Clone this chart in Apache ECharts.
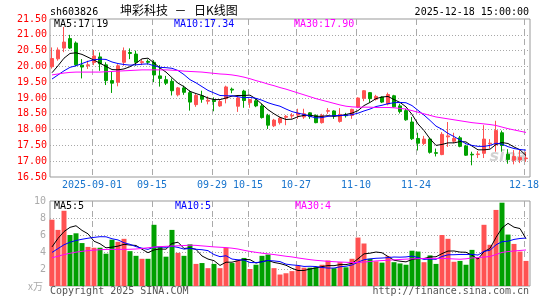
<!DOCTYPE html>
<html><head><meta charset="utf-8">
<script src="https://cdn.jsdelivr.net/npm/echarts@6/dist/echarts.min.js"></script>
<style>html,body{margin:0;padding:0;background:#fff}#c{width:545px;height:300px}</style>
</head><body><div id="c"></div>
<script>
const dates = [
'2025-08-21','2025-08-22','2025-08-25','2025-08-26','2025-08-27','2025-08-28','2025-08-29',
'2025-09-01','2025-09-02','2025-09-03','2025-09-04','2025-09-05','2025-09-08','2025-09-09','2025-09-10','2025-09-11','2025-09-12',
'2025-09-15','2025-09-16','2025-09-17','2025-09-18','2025-09-19','2025-09-22','2025-09-23','2025-09-24','2025-09-25','2025-09-26',
'2025-09-29','2025-09-30','2025-10-09','2025-10-10','2025-10-13','2025-10-14','2025-10-15','2025-10-16','2025-10-17','2025-10-20',
'2025-10-21','2025-10-22','2025-10-23','2025-10-24','2025-10-27','2025-10-28','2025-10-29','2025-10-30','2025-10-31',
'2025-11-03','2025-11-04','2025-11-05','2025-11-06','2025-11-07','2025-11-10','2025-11-11','2025-11-12','2025-11-13','2025-11-14',
'2025-11-17','2025-11-18','2025-11-19','2025-11-20','2025-11-21','2025-11-24','2025-11-25','2025-11-26','2025-11-27','2025-11-28',
'2025-12-01','2025-12-02','2025-12-03','2025-12-04','2025-12-05','2025-12-08','2025-12-09','2025-12-10','2025-12-11','2025-12-12',
'2025-12-15','2025-12-16','2025-12-17','2025-12-18'];

const opens = [
19.99,20.24,20.58,20.88,20.74,20.04,20.02,20.12,20.30,20.05,
19.55,19.50,20.13,20.44,20.39,20.12,20.16,20.13,19.70,19.58,
19.53,19.10,19.32,19.17,18.79,19.07,18.90,18.93,18.75,18.98,
19.28,18.74,19.22,18.85,18.91,18.75,18.45,18.12,18.22,18.39,
18.43,18.46,18.40,18.53,18.45,18.22,18.58,18.59,18.26,18.46,
18.45,18.71,18.99,19.17,18.96,19.03,18.81,19.07,18.75,18.60,
18.24,17.72,17.56,17.70,17.27,17.21,17.77,17.63,17.74,17.48,
17.22,17.21,17.25,17.55,17.52,17.90,17.22,17.03,17.04,17.08];
const closes = [
20.25,20.52,20.77,20.58,20.05,19.98,20.05,20.33,20.08,19.55,
19.47,20.02,20.49,20.41,20.13,20.15,20.13,19.73,19.62,19.47,
19.23,19.32,19.18,18.87,19.08,18.96,18.93,18.89,18.89,19.35,
19.25,19.00,18.92,18.95,18.75,18.38,18.14,18.30,18.36,18.42,
18.45,18.52,18.50,18.41,18.22,18.45,18.60,18.43,18.48,18.44,
18.64,19.00,19.23,18.98,19.05,18.87,19.11,18.72,18.57,18.31,
17.71,17.57,17.70,17.28,17.25,17.85,17.80,17.72,17.47,17.19,
17.20,17.23,17.70,17.57,17.97,17.50,17.05,17.15,17.12,17.10];
const lows = [
19.93,20.18,20.45,20.55,20.00,19.62,19.92,20.04,19.86,19.41,
19.16,19.37,20.02,20.23,20.02,20.04,20.06,19.50,19.36,19.41,
19.08,19.05,19.10,18.60,18.72,18.85,18.80,18.58,18.72,18.83,
19.15,18.56,18.69,18.69,18.71,18.35,18.02,18.08,18.16,18.14,
18.35,18.34,18.34,18.34,18.20,18.19,18.50,18.34,18.22,18.38,
18.34,18.68,18.90,18.86,18.92,18.84,18.77,18.70,18.51,18.28,
17.67,17.34,17.51,17.24,17.15,17.19,17.45,17.57,17.44,17.17,
16.87,17.10,17.10,17.40,17.30,17.30,16.92,16.90,16.94,16.98];
const highs = [
20.60,20.60,21.25,21.00,20.79,20.23,20.18,20.52,20.44,20.13,
19.83,20.07,20.60,20.57,20.50,20.23,20.22,20.20,20.04,19.70,
19.62,19.35,19.39,19.24,19.13,19.23,19.05,19.02,18.95,19.39,
19.33,19.07,19.26,18.97,18.97,18.82,18.50,18.34,18.40,18.46,
18.52,18.66,18.66,18.55,18.48,18.50,18.68,18.61,18.68,18.53,
18.66,19.02,19.25,19.19,19.10,19.05,19.17,19.10,18.82,18.66,
18.40,17.90,17.80,17.74,17.40,17.92,18.24,17.90,17.80,17.52,
17.30,17.32,18.14,17.70,18.28,17.97,17.38,17.35,17.38,17.30];

const ma5 = [
19.80,20.02,20.26,20.41,20.43,20.38,20.29,20.20,20.10,20.00,
19.90,19.89,19.92,19.99,20.10,20.24,20.26,20.11,19.95,19.82,
19.64,19.47,19.36,19.21,19.14,19.08,19.00,18.95,18.95,19.00,
19.06,19.08,19.08,19.09,18.97,18.80,18.63,18.50,18.39,18.32,
18.33,18.41,18.45,18.46,18.42,18.42,18.44,18.42,18.44,18.48,
18.52,18.60,18.76,18.86,18.98,19.03,19.05,18.95,18.86,18.72,
18.48,18.18,17.97,17.71,17.50,17.53,17.58,17.58,17.62,17.61,
17.48,17.36,17.36,17.38,17.53,17.59,17.56,17.45,17.36,17.18];
const ma10 = [
19.60,19.73,19.86,19.97,20.02,20.09,20.16,20.21,20.23,20.22,
20.14,20.09,20.06,20.04,20.05,20.07,20.08,20.02,19.97,19.96,
19.94,19.87,19.74,19.58,19.48,19.36,19.24,19.16,19.08,19.07,
19.07,19.04,19.01,19.02,18.99,18.93,18.85,18.79,18.74,18.65,
18.57,18.52,18.48,18.42,18.37,18.38,18.42,18.44,18.45,18.45,
18.47,18.52,18.59,18.65,18.73,18.77,18.82,18.85,18.86,18.85,
18.76,18.61,18.46,18.29,18.11,18.01,17.88,17.78,17.67,17.55,
17.50,17.47,17.47,17.50,17.57,17.54,17.46,17.40,17.37,17.35];
const ma30 = [
19.73,19.76,19.79,19.81,19.82,19.82,19.82,19.82,19.82,19.83,
19.84,19.85,19.86,19.87,19.88,19.89,19.89,19.89,19.89,19.89,
19.88,19.87,19.85,19.84,19.83,19.82,19.80,19.78,19.76,19.75,
19.73,19.70,19.66,19.61,19.55,19.50,19.44,19.39,19.33,19.28,
19.22,19.16,19.10,19.04,18.98,18.93,18.88,18.83,18.78,18.74,
18.72,18.71,18.71,18.71,18.70,18.70,18.70,18.69,18.67,18.65,
18.60,18.55,18.50,18.45,18.40,18.37,18.34,18.31,18.28,18.25,
18.22,18.20,18.18,18.16,18.13,18.08,18.03,17.99,17.95,17.91];

const volumes = [
7.80,6.60,8.85,6.00,6.20,5.05,4.60,4.50,4.50,3.80,
5.45,5.20,5.55,4.10,3.55,3.20,3.20,7.20,4.60,3.45,
6.60,3.90,3.55,4.90,2.60,2.70,2.10,2.60,2.10,4.50,
2.70,3.00,3.30,2.00,2.50,3.55,3.70,2.10,1.35,1.50,
1.75,2.40,2.15,2.15,2.20,2.50,3.00,2.10,2.80,2.20,
3.20,5.70,5.00,3.20,2.90,2.75,3.50,2.80,2.65,2.50,
4.15,4.05,2.80,3.60,2.60,6.00,5.55,2.85,2.95,2.50,
4.25,3.30,7.20,4.85,8.95,9.80,6.05,4.95,4.05,2.95];
const vma5 = [
4.60,5.60,6.40,6.90,7.09,6.54,6.14,5.27,4.97,4.49,
4.57,4.69,4.90,4.82,4.77,4.32,3.92,4.25,4.35,4.33,
5.01,5.15,4.42,4.48,4.31,3.53,3.17,2.98,2.42,2.80,
2.80,2.98,3.12,3.10,2.70,2.87,3.01,2.77,2.64,2.44,
2.08,1.82,1.83,1.99,2.13,2.28,2.40,2.39,2.52,2.52,
2.66,3.20,3.78,3.86,4.00,3.91,3.47,3.03,2.92,2.84,
3.12,3.23,3.23,3.42,3.44,3.81,4.11,4.12,3.99,3.97,
3.62,3.17,4.04,4.42,5.71,6.82,7.37,6.92,6.76,5.56];
const vma10 = [
3.95,4.40,4.85,5.15,5.35,5.50,5.62,5.72,5.80,5.79,
5.56,5.42,5.09,4.90,4.63,4.45,4.31,4.58,4.59,4.55,
4.67,4.54,4.34,4.42,4.32,4.27,4.16,3.70,3.45,3.56,
3.17,3.08,3.05,2.76,2.75,2.84,3.00,2.95,2.87,2.57,
2.48,2.42,2.30,2.32,2.29,2.18,2.11,2.11,2.26,2.33,
2.47,2.80,3.09,3.19,3.26,3.29,3.34,3.41,3.39,3.42,
3.52,3.35,3.13,3.17,3.14,3.47,3.67,3.68,3.71,3.71,
3.72,3.64,4.08,4.21,4.84,5.22,5.27,5.48,5.59,5.64];
const vma30 = [
3.33,3.50,3.70,3.85,3.98,4.08,4.16,4.22,4.27,4.30,
4.31,4.31,4.31,4.32,4.35,4.42,4.50,4.58,4.63,4.67,
4.70,4.73,4.76,4.80,4.78,4.72,4.66,4.60,4.56,4.52,
4.45,4.35,4.20,4.07,3.96,3.86,3.78,3.70,3.60,3.50,
3.42,3.30,3.20,3.10,3.02,2.96,2.90,2.86,2.82,2.79,
2.76,2.78,2.82,2.88,2.95,2.99,3.04,3.08,3.12,3.16,
3.20,3.22,3.24,3.25,3.25,3.25,3.22,3.18,3.15,3.20,
3.30,3.34,3.40,3.47,3.70,3.95,4.05,4.12,4.18,4.24];

const tickDates  = ['2025-09-01','2025-09-15','2025-09-29','2025-10-15','2025-10-27','2025-11-10','2025-11-24','2025-12-18'];
const tickLabels = ['2025-09-01','09-15','09-29','10-15','10-27','11-10','11-24','12-18'];
const priceMin = 16.5, priceMax = 21.5, priceStep = 0.5;
const volMin = 0, volMax = 10, volStep = 2;

const UP = '#ff5252', DOWN = '#00a000';
const MONO = '"DejaVu Sans Mono", monospace';
const CJK = '"Noto Sans CJK SC", sans-serif';
const tickIdx = tickDates.map(d => dates.indexOf(d));
const frameDates = dates.concat(['']);

const chart = echarts.init(document.getElementById('c'), null, {renderer: 'canvas'});

function txt(text, x, y, color, font, align) {
  return {type: 'text', x: x, y: y, z: 100,
    style: {text: text, fill: color, font: font, align: align || 'left', verticalAlign: 'middle'}};
}

const vLine = {show: true, interval: (i) => tickIdx.indexOf(i) >= 0,
  lineStyle: {color: '#aaa', width: 1, type: [6, 4]}};
const hLine = {show: true, showMinLine: false, showMaxLine: false,
  lineStyle: {color: '#a8a8a8', width: 1, type: [1, 2]}};

const option = {
  animation: false,
  backgroundColor: '#fff',
  grid: [
    {left: 49, width: 480, top: 19, height: 158},
    {left: 49, width: 480, top: 201, height: 85},
    {left: 50, width: 480, top: 19, height: 158, show: true, borderColor: '#999', borderWidth: 1},
    {left: 50, width: 480, top: 201, height: 85, show: true, borderColor: '#999', borderWidth: 1}
  ],
  xAxis: [
    {type: 'category', gridIndex: 0, data: dates, boundaryGap: true, show: false},
    {type: 'category', gridIndex: 1, data: dates, boundaryGap: true, show: false},
    {type: 'category', gridIndex: 2, data: frameDates, boundaryGap: false,
      axisLine: {show: false}, axisTick: {show: false},
      axisLabel: {interval: (i) => tickIdx.indexOf(i) >= 0,
        formatter: (v) => { const k = tickDates.indexOf(v); return k >= 0 ? tickLabels[k] : ''; },
        color: '#1874cd', fontFamily: MONO, fontSize: 10, margin: 3},
      splitLine: vLine},
    {type: 'category', gridIndex: 3, data: frameDates, boundaryGap: false,
      axisLine: {show: false}, axisTick: {show: false}, axisLabel: {show: false},
      splitLine: vLine}
  ],
  yAxis: [
    {type: 'value', gridIndex: 0, min: priceMin, max: priceMax, show: false},
    {type: 'value', gridIndex: 1, min: volMin, max: volMax, show: false},
    {type: 'value', gridIndex: 2, min: priceMin, max: priceMax, interval: priceStep,
      axisLine: {show: false}, axisTick: {show: false},
      axisLabel: {formatter: (v) => v.toFixed(2), color: '#ff0000', fontFamily: MONO, fontSize: 10, margin: 3},
      splitLine: hLine},
    {type: 'value', gridIndex: 3, min: volMin, max: volMax, interval: volStep,
      axisLine: {show: false}, axisTick: {show: false},
      axisLabel: {formatter: (v) => v === 0 ? '' : String(v), color: '#aaa', fontFamily: MONO, fontSize: 10, margin: 4},
      splitLine: hLine}
  ],
  series: [
    {type: 'candlestick', xAxisIndex: 0, yAxisIndex: 0, barWidth: 4, clip: true,
      data: dates.map((d, i) => [opens[i], closes[i], lows[i], highs[i]]),
      itemStyle: {color: UP, color0: DOWN, borderColor: UP, borderColor0: DOWN, borderWidth: 1}},
    {type: 'line', xAxisIndex: 0, yAxisIndex: 0, data: ma5, showSymbol: false, lineStyle: {color: '#000', width: 1}, z: 5},
    {type: 'line', xAxisIndex: 0, yAxisIndex: 0, data: ma10, showSymbol: false, lineStyle: {color: '#0000ff', width: 1}, z: 5},
    {type: 'line', xAxisIndex: 0, yAxisIndex: 0, data: ma30, showSymbol: false, lineStyle: {color: '#ff00ff', width: 1}, z: 5},
    {type: 'bar', xAxisIndex: 1, yAxisIndex: 1, barWidth: 5,
      data: volumes.map((v, i) => ({value: v, itemStyle: {color: closes[i] >= opens[i] ? UP : DOWN}}))},
    {type: 'line', xAxisIndex: 1, yAxisIndex: 1, data: vma5, showSymbol: false, lineStyle: {color: '#000', width: 1}, z: 5},
    {type: 'line', xAxisIndex: 1, yAxisIndex: 1, data: vma10, showSymbol: false, lineStyle: {color: '#0000ff', width: 1}, z: 5},
    {type: 'line', xAxisIndex: 1, yAxisIndex: 1, data: vma30, showSymbol: false, lineStyle: {color: '#ff00ff', width: 1}, z: 5}
  ],
  graphic: [
    txt('sh603826', 50, 12, '#000', '10px ' + MONO),
    txt('坤彩科技', 120, 10, '#000', '12px ' + CJK),
    txt('－', 180.5, 10, '#000', '12px ' + CJK, 'center'),
    txt('日K线图', 194, 10, '#000', '12px ' + CJK),
    txt('2025-12-18 15:00:00', 529, 12, '#000', '10px ' + MONO, 'right'),
    txt('MA5:17.19', 54, 24.5, '#000', '10px ' + MONO),
    txt('MA10:17.34', 174, 24.5, '#0000ff', '10px ' + MONO),
    txt('MA30:17.90', 294, 24.5, '#ff00ff', '10px ' + MONO),
    txt('MA5:5', 54, 206.5, '#000', '10px ' + MONO),
    txt('MA10:5', 175, 206.5, '#0000ff', '10px ' + MONO),
    txt('MA30:4', 295, 206.5, '#ff00ff', '10px ' + MONO),
    txt('x万', 28, 286, '#aaa', '10px ' + CJK),
    txt('Copyright 2025 SINA.COM', 50, 291.5, '#555', '10px ' + MONO),
    txt('http://finance.sina.com.cn', 529, 291.5, '#555', '10px ' + MONO, 'right'),
    {type: 'text', x: 508, y: 157, z: 1, style: {text: 'sina', fill: 'rgba(165,165,165,0.5)',
      font: 'italic bold 16px "DejaVu Sans", sans-serif', align: 'center', verticalAlign: 'middle'}}
  ]
};
chart.setOption(option);
</script>
</body></html>
